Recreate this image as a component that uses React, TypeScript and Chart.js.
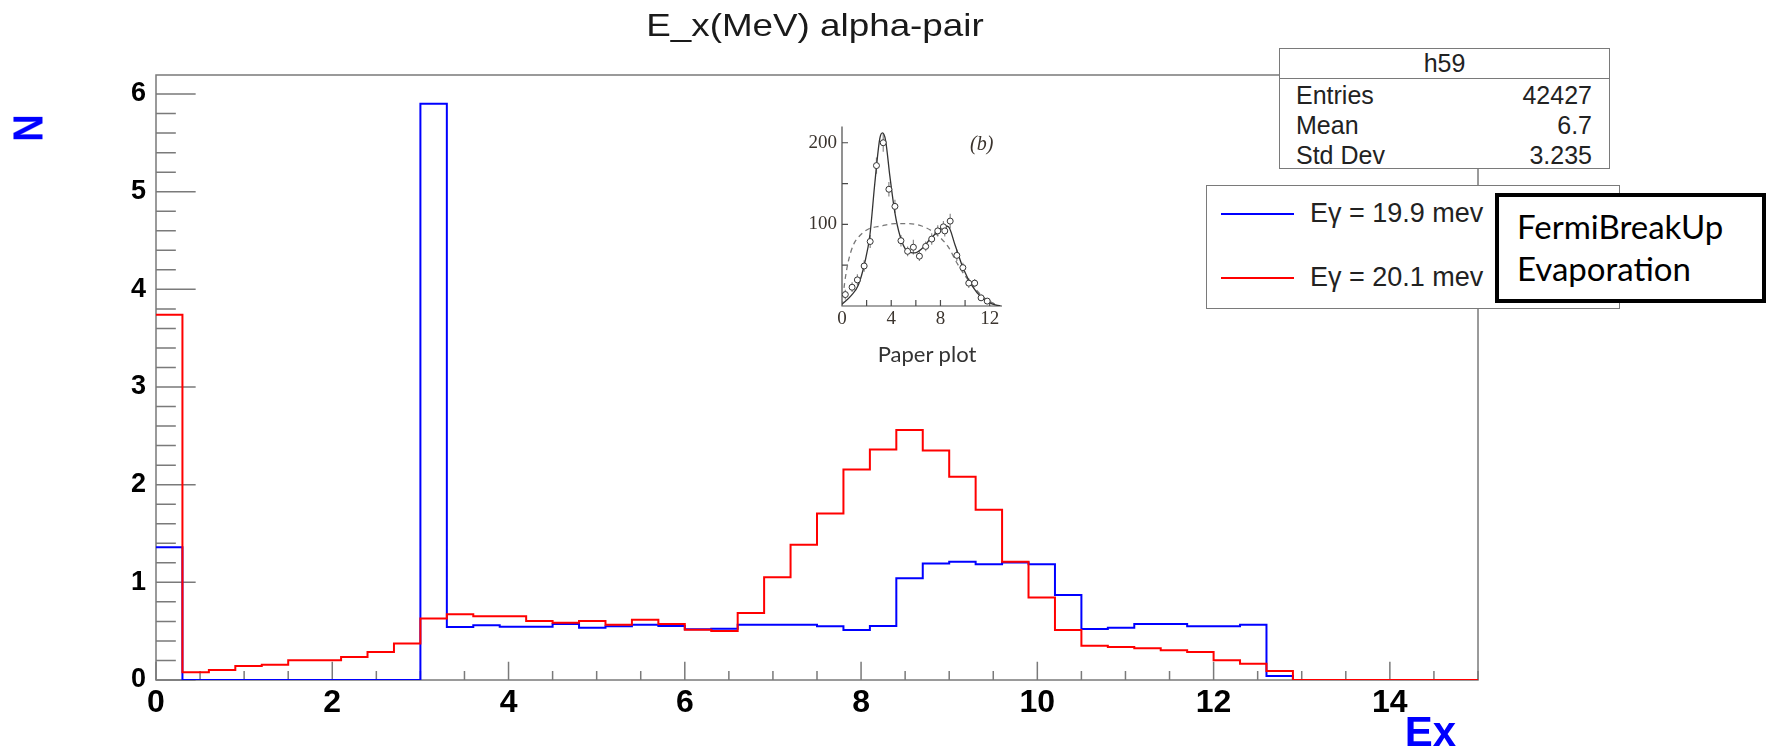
import React, { useEffect, useRef } from 'react';
import { Chart, registerables } from 'chart.js';

Chart.register(...registerables);

// ---------- main histogram data (bin width 0.3 MeV, 0..15) ----------
const binEdges = [
  0, 0.3, 0.6, 0.9, 1.2, 1.5, 1.8, 2.1, 2.4, 2.7, 3, 3.3, 3.6, 3.9, 4.2, 4.5, 4.8,
  5.1, 5.4, 5.7, 6, 6.3, 6.6, 6.9, 7.2, 7.5, 7.8, 8.1, 8.4, 8.7, 9, 9.3, 9.6, 9.9,
  10.2, 10.5, 10.8, 11.1, 11.4, 11.7, 12, 12.3, 12.6, 12.9, 13.2, 13.5, 13.8, 14.1,
  14.4, 14.7, 15,
];

// E gamma = 19.9 mev (blue)
const blueCounts = [
  1.36, 0, 0, 0, 0, 0, 0, 0, 0, 0,
  5.9, 0.542, 0.56, 0.546, 0.546, 0.573, 0.535, 0.55, 0.565, 0.553,
  0.52, 0.525, 0.566, 0.566, 0.566, 0.55, 0.512, 0.553, 1.041, 1.194,
  1.211, 1.184, 1.204, 1.184, 0.87, 0.522, 0.535, 0.573, 0.573, 0.55,
  0.55, 0.566, 0.041, 0, 0, 0, 0, 0, 0, 0,
];

// E gamma = 20.1 mev (red)
const redCounts = [
  3.74, 0.079, 0.102, 0.143, 0.157, 0.201, 0.201, 0.235, 0.287, 0.375,
  0.631, 0.672, 0.652, 0.652, 0.604, 0.587, 0.604, 0.566, 0.617, 0.573,
  0.515, 0.502, 0.686, 1.051, 1.385, 1.706, 2.156, 2.36, 2.559, 2.351,
  2.081, 1.744, 1.211, 0.846, 0.512, 0.351, 0.338, 0.324, 0.304, 0.287,
  0.201, 0.167, 0.092, 0, 0, 0, 0, 0, 0, 0,
];

const legendLabels = ['E\u03b3 = 19.9 mev', 'E\u03b3 = 20.1 mev'];
const statsTitle = 'h59';
const statsNames = ['Entries', 'Mean', 'Std Dev'];
const statsValues = ['42427', '6.7', '3.235'];
const noteLines = ['FermiBreakUp', 'Evaporation'];

const X_MIN = 0;
const X_MAX = 15;
const Y_MAX = 6.195;
const Y_MINOR_STEP = 0.2;
const X_MINOR_STEP = 0.5;

// ---------- inset ("Paper plot") data ----------
const insetFitX = [0, 0.76, 1.31, 1.85, 2.26, 2.67, 3.07, 3.29, 3.54, 3.89, 4.3, 4.71, 5.25, 5.93, 6.48, 7.16, 7.84, 8.38, 8.65, 9.2, 9.88, 10.56, 11.37, 12.19, 12.87];
const insetFitY = [2, 13, 25, 53, 86, 151, 205, 212, 203, 159, 114, 86, 68, 65, 70, 82, 92, 98, 97, 74, 45, 25, 10, 2.5, 0];
const insetDashX = [0, 0.22, 0.49, 0.9, 1.44, 2.12, 3.2, 4.3, 5.39, 6.48, 7.29, 7.97, 8.65, 9.33, 10.0, 10.83, 11.65, 12.46];
const insetDashY = [0, 29, 53, 74, 86, 94, 98, 101, 101, 98, 92, 84, 72, 53, 37, 21, 9, 2];
const insetPtX = [0.27, 0.82, 1.25, 1.8, 2.29, 2.8, 3.35, 3.81, 4.3, 4.79, 5.33, 5.8, 6.29, 6.8, 7.29, 7.78, 8.24, 8.35, 8.79, 9.33, 9.82, 10.3, 10.78, 11.3, 11.8];
const insetPtY = [14, 23, 32, 49, 79, 172, 200, 143, 122, 80, 67, 72, 61, 73, 82, 92, 97, 92, 104, 62, 47, 28, 28, 10, 6];
const insetPtErr = [6, 6, 7, 7, 8, 10, 11, 9, 8, 7, 6, 9, 6, 6, 7, 7, 7, 7, 9, 7, 6, 6, 5, 4, 3];
const insetYMinorTicks = [50, 100, 150, 200];
const insetXMinorTicks = [2, 4, 6, 8, 10, 12];

const FRAME_COLOR = '#7a7a7a';
const SANS = '"Liberation Sans", Arial, Helvetica, sans-serif';
const SERIF = '"Liberation Serif", "DejaVu Serif", serif';

function histPoints(counts: number[]) {
  const pts = counts.map((v, i) => ({ x: binEdges[i], y: v }));
  pts.push({ x: binEdges[binEdges.length - 1], y: counts[counts.length - 1] });
  return pts;
}

const rootFrame = {
  id: 'rootFrame',
  beforeDatasetsDraw(chart: any) {
    const { ctx, chartArea: a } = chart;
    const xs = chart.scales.x;
    const ys = chart.scales.y;
    ctx.save();
    ctx.strokeStyle = FRAME_COLOR;
    ctx.lineWidth = 1.5;
    ctx.strokeRect(a.left, a.top, a.right - a.left, a.bottom - a.top);
    ctx.beginPath();
    const yMajor = 0.03 * (a.right - a.left);
    for (let k = 0; k * Y_MINOR_STEP <= Y_MAX + 1e-9; k++) {
      const py = ys.getPixelForValue(k * Y_MINOR_STEP);
      const len = k % 5 === 0 ? yMajor : yMajor / 2;
      ctx.moveTo(a.left, py);
      ctx.lineTo(a.left + len, py);
    }
    const xMajor = 0.03 * (a.bottom - a.top);
    for (let k = 0; k * X_MINOR_STEP <= X_MAX + 1e-9; k++) {
      const px = xs.getPixelForValue(k * X_MINOR_STEP);
      const len = k % 4 === 0 ? xMajor : xMajor / 2;
      ctx.moveTo(px, a.bottom);
      ctx.lineTo(px, a.bottom - len);
    }
    ctx.stroke();
    ctx.restore();
  },
};

const insetAxes = {
  id: 'insetAxes',
  beforeDatasetsDraw(chart: any) {
    const { ctx, chartArea: a } = chart;
    const xs = chart.scales.x;
    const ys = chart.scales.y;
    ctx.save();
    ctx.strokeStyle = '#4a4a4a';
    ctx.lineWidth = 1.2;
    ctx.beginPath();
    ctx.moveTo(a.left, a.top);
    ctx.lineTo(a.left, a.bottom);
    ctx.lineTo(a.right, a.bottom);
    insetYMinorTicks.forEach((v) => {
      const py = ys.getPixelForValue(v);
      ctx.moveTo(a.left, py);
      ctx.lineTo(a.left + 6, py);
    });
    insetXMinorTicks.forEach((v) => {
      const px = xs.getPixelForValue(v);
      ctx.moveTo(px, a.bottom);
      ctx.lineTo(px, a.bottom - 6);
    });
    ctx.stroke();
    // error bars
    ctx.strokeStyle = '#8a8a8a';
    ctx.lineWidth = 1.2;
    ctx.beginPath();
    insetPtX.forEach((xv, i) => {
      const px = xs.getPixelForValue(xv);
      ctx.moveTo(px, ys.getPixelForValue(insetPtY[i] - insetPtErr[i]));
      ctx.lineTo(px, ys.getPixelForValue(insetPtY[i] + insetPtErr[i]));
    });
    ctx.stroke();
    ctx.restore();
  },
};

const abs = (s: React.CSSProperties): React.CSSProperties => ({ position: 'absolute', margin: 0, padding: 0, whiteSpace: 'nowrap', ...s });

export default function App() {
  const mainRef = useRef<HTMLCanvasElement | null>(null);
  const insetRef = useRef<HTMLCanvasElement | null>(null);

  useEffect(() => {
    if (!mainRef.current || !insetRef.current) return;
    const main = new Chart(mainRef.current, {
      type: 'line',
      data: {
        datasets: [
          {
            label: legendLabels[0],
            data: histPoints(blueCounts),
            borderColor: '#0000ff',
            borderWidth: 2,
            stepped: 'before',
            pointRadius: 0,
            fill: false,
            order: 1,
          } as any,
          {
            label: legendLabels[1],
            data: histPoints(redCounts),
            borderColor: '#ff0000',
            borderWidth: 2,
            stepped: 'before',
            pointRadius: 0,
            fill: false,
            order: 0,
          } as any,
        ],
      },
      options: {
        responsive: false,
        animation: false,
        layout: { padding: { top: 75, right: 289, left: 0, bottom: 0 } },
        plugins: { legend: { display: false }, title: { display: false }, tooltip: { enabled: false } },
        scales: {
          x: {
            type: 'linear',
            min: X_MIN,
            max: X_MAX,
            grid: { display: false, drawTicks: false },
            border: { display: false },
            ticks: {
              stepSize: 2,
              includeBounds: false,
              autoSkip: false,
              maxRotation: 0,
              padding: 4,
              color: '#000',
              font: { family: SANS, size: 32, weight: 'bold' },
            },
            afterFit: (s: any) => { s.height = 69; },
          },
          y: {
            type: 'linear',
            min: 0,
            max: Y_MAX,
            grid: { display: false, drawTicks: false },
            border: { display: false },
            ticks: {
              stepSize: 1,
              includeBounds: false,
              autoSkip: false,
              padding: 10,
              color: '#000',
              font: { family: SANS, size: 27, weight: 'bold' },
            },
            afterFit: (s: any) => { s.width = 156; },
          },
        },
      } as any,
      plugins: [rootFrame],
    });

    const inset = new Chart(insetRef.current, {
      type: 'line',
      data: {
        datasets: [
          {
            data: insetPtX.map((x, i) => ({ x, y: insetPtY[i] })),
            showLine: false,
            pointRadius: 3,
            pointBorderWidth: 1,
            pointBorderColor: '#333',
            pointBackgroundColor: '#fff',
            order: 0,
          } as any,
          {
            data: insetFitX.map((x, i) => ({ x, y: insetFitY[i] })),
            borderColor: '#333',
            borderWidth: 1.3,
            pointRadius: 0,
            cubicInterpolationMode: 'monotone',
            fill: false,
            order: 1,
          } as any,
          {
            data: insetDashX.map((x, i) => ({ x, y: insetDashY[i] })),
            borderColor: '#777',
            borderWidth: 1.3,
            borderDash: [5, 4],
            pointRadius: 0,
            cubicInterpolationMode: 'monotone',
            fill: false,
            order: 2,
          } as any,
        ],
      },
      options: {
        responsive: false,
        animation: false,
        layout: { padding: { top: 15, right: 18, left: 0, bottom: 0 } },
        plugins: { legend: { display: false }, title: { display: false }, tooltip: { enabled: false } },
        scales: {
          x: {
            type: 'linear',
            min: 0,
            max: 13,
            grid: { display: false, drawTicks: false },
            border: { display: false },
            ticks: {
              stepSize: 4,
              includeBounds: false,
              autoSkip: false,
              maxRotation: 0,
              padding: 2,
              color: '#3b342e',
              font: { family: SERIF, size: 19 },
            },
            afterFit: (s: any) => { s.height = 24; },
          },
          y: {
            type: 'linear',
            min: 0,
            max: 220,
            grid: { display: false, drawTicks: false },
            border: { display: false },
            ticks: {
              stepSize: 100,
              includeBounds: false,
              autoSkip: false,
              padding: 5,
              color: '#3b342e',
              font: { family: SERIF, size: 19 },
              callback: (v: any) => (v === 0 ? '' : String(v)),
            },
            afterFit: (s: any) => { s.width = 62; },
          },
        },
      } as any,
      plugins: [insetAxes],
    });

    return () => {
      main.destroy();
      inset.destroy();
    };
  }, []);

  const boxBorder = `1.5px solid ${FRAME_COLOR}`;

  return (
    <div style={{ position: 'absolute', left: 0, top: 0, width: 1767, height: 749, overflow: 'hidden', background: '#fff' }}>
      <canvas ref={mainRef} width={1767} height={749} style={{ position: 'absolute', left: 0, top: 0, width: 1767, height: 749 }} />
      <canvas ref={insetRef} width={240} height={220} style={{ position: 'absolute', left: 780, top: 110, width: 240, height: 220 }} />

      {/* title */}
      <div style={abs({ left: 515, top: 9, width: 600, textAlign: 'center', font: `32px/32px ${SANS}`, color: '#1a1a1a', transform: 'scaleX(1.15)', transformOrigin: '50% 50%' })}>E_x(MeV) alpha-pair</div>

      {/* axis titles */}
      <div style={abs({ left: -2, top: 109, width: 60, height: 38, textAlign: 'center', font: `bold 38px/38px ${SANS}`, color: '#0000ff', transform: 'rotate(-90deg) scaleY(1.12)' })}>N</div>
      <div style={abs({ left: 1356, top: 711, width: 100, textAlign: 'right', font: `bold 42px/42px ${SANS}`, color: '#0000ff' })}>Ex</div>

      {/* inset annotations */}
      <div style={abs({ left: 970, top: 133, font: `italic 20px/20px ${SERIF}`, color: '#3b342e' })}>(<span>b</span>)</div>
      <div style={abs({ left: 827, top: 343, width: 200, textAlign: 'center', font: `22px/22px Lato, "Open Sans", sans-serif`, color: '#333' })}>Paper plot</div>

      {/* stats box */}
      <div style={abs({ left: 1279, top: 48, width: 331, height: 121, boxSizing: 'border-box', border: boxBorder, background: '#fff' })}>
        <div style={abs({ left: 0, top: 28.5, width: '100%', height: 0, borderTop: boxBorder })} />
      </div>
      <div style={abs({ left: 1279, top: 51, width: 331, textAlign: 'center', font: `25px/25px ${SANS}`, color: '#222' })}>{statsTitle}</div>
      {statsNames.map((n, i) => (
        <React.Fragment key={n}>
          <div style={abs({ left: 1296, top: 83 + i * 30, font: `25px/25px ${SANS}`, color: '#222' })}>{n}</div>
          <div style={abs({ left: 1392, top: 83 + i * 30, width: 200, textAlign: 'right', font: `25px/25px ${SANS}`, color: '#222' })}>{statsValues[i]}</div>
        </React.Fragment>
      ))}

      {/* legend */}
      <div style={abs({ left: 1206, top: 185, width: 414, height: 124, boxSizing: 'border-box', border: boxBorder, background: '#fff' })} />
      {legendLabels.map((l, i) => (
        <React.Fragment key={l}>
          <div style={abs({ left: 1221, top: 213 + i * 64, width: 73, height: 2, background: i === 0 ? '#0000ff' : '#ff0000' })} />
          <div style={abs({ left: 1310, top: 200 + i * 64, font: `27px/27px ${SANS}`, color: '#222' })}>{l}</div>
        </React.Fragment>
      ))}

      {/* note box */}
      <div style={abs({ left: 1495, top: 193, width: 271, height: 110, boxSizing: 'border-box', border: '4px solid #000', background: '#fff' })} />
      {noteLines.map((t, i) => (
        <div key={t} style={abs({ left: 1517, top: 210 + i * 42, font: `33px/33px Lato, "Open Sans", sans-serif`, color: '#000' })}>{t}</div>
      ))}
    </div>
  );
}
